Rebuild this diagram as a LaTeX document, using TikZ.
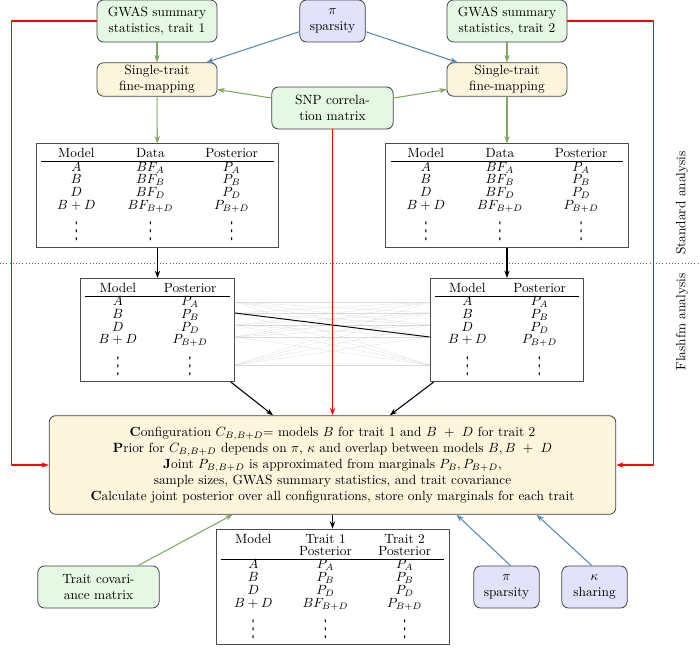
\documentclass[tikz,border=0pt]{standalone}
\usepackage{amsmath}
\usepackage{graphicx}
\usepackage{fontspec}
\usetikzlibrary{arrows.meta}

\newfontfamily\dotsfont{DejaVu Sans}
\definecolor{gwasgreen}{RGB}{228,248,228}
\definecolor{stepyellow}{RGB}{253,246,221}
\definecolor{parblue}{RGB}{226,226,250}
\definecolor{arrgreen}{RGB}{128,168,98}
\definecolor{arrblue}{RGB}{88,138,178}

\renewcommand{\arraystretch}{0.75}
\newcommand{\colvdots}{\scalebox{0.7}[1.45]{\dotsfont\fontsize{12pt}{12pt}\selectfont ⋮}}

\begin{document}
\begin{tikzpicture}[x=0.75pt, y=-0.75pt, >={Stealth[length=5.5pt, width=4pt]}, line join=round,
		rbox/.style={draw=black!75, line width=0.6pt, rounded corners=5pt, align=center, inner sep=2pt},
		gwasbox/.style={rbox, fill=gwasgreen, minimum width=90pt, minimum height=31.5pt},
		fmbox/.style={rbox, fill=stepyellow, minimum width=90pt, minimum height=23pt},
		parbox/.style={rbox, fill=parblue, minimum width=49pt, minimum height=31.5pt},
		tabbox/.style={draw=black!70, line width=0.7pt, fill=white, inner sep=3.5pt},
		garrow/.style={->, arrgreen, line width=0.8pt},
		barrow/.style={->, arrblue, line width=0.8pt},
		rarrow/.style={->, red, line width=0.9pt},
		karrow/.style={->, black, line width=0.8pt}]
		\useasboundingbox (0,0) rectangle (699,647);
		% Split between the two analyses
		\draw[black!60, dotted] (0,263) -- (699,263);
		\node[rotate=90] (stdlab) at (682,203) {Standard analysis};
		\node[rotate=90] (fmlab) at (682,322) {Flashfm analysis};
		% Inputs
		\node[gwasbox] (gwasA) at (157,21) {GWAS summary\\statistics, trait 1};
		\node[gwasbox] (gwasB) at (507,21) {GWAS summary\\statistics, trait 2};
		\node[parbox] (spars) at (332.5,21) {$\pi$\\sparsity};
		\node[fmbox] (stfmA) at (157,79.5) {Single-trait\\fine-mapping};
		\node[fmbox] (stfmB) at (507,79.5) {Single-trait\\fine-mapping};
		\node[gwasbox, minimum width=91pt] (snpcor) at (332.5,108) {SNP correla-\\tion matrix};
		% Single trait results
		\node[tabbox] (tabA) at (157.5,195.5) {\setlength{\tabcolsep}{12pt}%
			\begin{tabular}{ccc}
				Model & Data & Posterior\\ \hline
				$A$ & $BF_A$ & $P_A$\\
				$B$ & $BF_B$ & $P_B$\\
				$D$ & $BF_D$ & $P_D$\\
				$B+D$ & $BF_{B+D}$ & $P_{B+D}$\\[7pt]
				\colvdots & \colvdots & \colvdots
			\end{tabular}};
		\node[tabbox] (tabB) at (507,195.5) {\setlength{\tabcolsep}{12pt}%
			\begin{tabular}{ccc}
				Model & Data & Posterior\\ \hline
				$A$ & $BF_A$ & $P_A$\\
				$B$ & $BF_B$ & $P_B$\\
				$D$ & $BF_D$ & $P_D$\\
				$B+D$ & $BF_{B+D}$ & $P_{B+D}$\\[7pt]
				\colvdots & \colvdots & \colvdots
			\end{tabular}};
		\node[tabbox] (postA) at (157.5,330) {\setlength{\tabcolsep}{10pt}%
			\begin{tabular}{cc}
				Model & Posterior\\ \hline
				$A$ & $P_A$\\
				$B$ & $P_B$\\
				$D$ & $P_D$\\
				$B+D$ & $P_{B+D}$\\[7pt]
				\colvdots & \colvdots
			\end{tabular}};
		\node[tabbox] (postB) at (507,330) {\setlength{\tabcolsep}{10pt}%
			\begin{tabular}{cc}
				Model & Posterior\\ \hline
				$A$ & $P_A$\\
				$B$ & $P_B$\\
				$D$ & $P_D$\\
				$B+D$ & $P_{B+D}$\\[7pt]
				\colvdots & \colvdots
			\end{tabular}};
		% Joint model
		\node[rbox, fill=stepyellow, minimum width=425pt, minimum height=74pt] (flashfm) at (332.5,465) {%
			\textbf{C}onfiguration $C_{B,B+D}$= models $B$ for trait 1 and $B\ +\ D$ for trait 2\\
			\textbf{P}rior for $C_{B,B+D}$ depends on $\pi$, $\kappa$ and overlap between models $B, B\ +\ D$\\
			\textbf{J}oint $P_{B,B+D}$ is approximated from marginals $P_B, P_{B+D}$,\\
			sample sizes, GWAS summary statistics, and trait covariance\\
			\textbf{C}alculate joint posterior over all configurations, store only marginals for each trait};
		\node[tabbox] (result) at (332.5,587) {\setlength{\tabcolsep}{10pt}%
			\begin{tabular}{ccc}
				Model & Trait 1 & Trait 2\\
				& Posterior & Posterior\\ \hline
				$A$ & $P_A$ & $P_A$\\
				$B$ & $P_B$ & $P_B$\\
				$D$ & $P_D$ & $P_D$\\
				$B+D$ & $BF_{B+D}$ & $P_{B+D}$\\[7pt]
				\colvdots & \colvdots & \colvdots
			\end{tabular}};
		\node[gwasbox, minimum width=91pt] (covmat) at (98.5,587) {Trait covari-\\ance matrix};
		\node[parbox] (sparsB) at (506.5,587) {$\pi$\\sparsity};
		\node[parbox] (sharing) at (594.5,587) {$\kappa$\\sharing};
		% Model pairs between the traits
		\foreach \ya in {302,313,325,337,365}
			\foreach \yb in {302,313,325,337,365}
				\draw[black!14, very thin] (postA.east |- 0,\ya) -- (postB.west |- 0,\yb);
		\draw[black, line width=0.7pt] (postA.east |- 0,313) -- (postB.west |- 0,337);
		% Connectors
		\draw[garrow] (gwasA) -- (stfmA);
		\draw[garrow] (gwasB) -- (stfmB);
		\draw[garrow] (stfmA) -- (tabA);
		\draw[garrow] (stfmB) -- (tabB);
		\draw[garrow] ([yshift=7.5pt]snpcor.west) -- ([yshift=-7.5pt]stfmA.east);
		\draw[garrow] ([yshift=7.5pt]snpcor.east) -- ([yshift=-7.5pt]stfmB.west);
		\draw[barrow] ([yshift=-8pt]spars.west) -- ([xshift=37pt]stfmA.north);
		\draw[barrow] ([yshift=-8pt]spars.east) -- ([xshift=-37pt]stfmB.north);
		\draw[rarrow] (snpcor) -- (flashfm);
		\draw[rarrow] (gwasA.west) -- ++(-85,0) |- (flashfm.west);
		\draw[rarrow] (gwasB.east) -- ++(86,0) |- (flashfm.east);
		\draw[karrow] (tabA) -- (postA);
		\draw[karrow] (tabB) -- (postB);
		\draw[karrow] ([xshift=-3pt]postA.south east) -- ([xshift=-44.6pt]flashfm.north);
		\draw[karrow] ([xshift=3pt]postB.south west) -- ([xshift=43pt]flashfm.north);
		\draw[karrow] (flashfm) -- (result);
		\draw[garrow] ([xshift=29.6pt]covmat.north) -- ([xshift=-75pt]flashfm.south);
		\draw[barrow] ([xshift=3pt]sparsB.north) -- ([xshift=93pt]flashfm.south);
		\draw[barrow] ([xshift=-2pt]sharing.north) -- ([xshift=153pt]flashfm.south);
	\end{tikzpicture}
\end{document}
